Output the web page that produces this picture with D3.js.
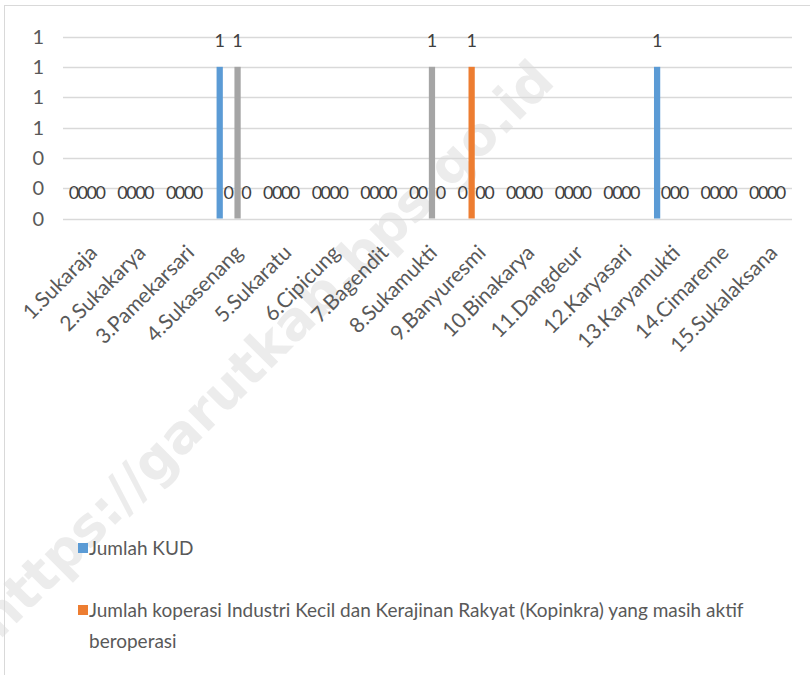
<!DOCTYPE html>
<html>
<head>
<meta charset="utf-8">
<script src="https://unpkg.com/d3@7/dist/d3.min.js"></script>
<style>
  body { margin: 0; background: #fff; }
  text { font-family: Lato, "Open Sans", sans-serif; }
  .dlabel { font-family: "Liberation Sans Narrow", Lato, sans-serif; }
</style>
</head>
<body>
<svg id="chart" width="810" height="675"></svg>
<script>
// desa / kelurahan
var categories = ["1.Sukaraja", "2.Sukakarya", "3.Pamekarsari", "4.Sukasenang", "5.Sukaratu",
  "6.Cipicung", "7.Bagendit", "8.Sukamukti", "9.Banyuresmi", "10.Binakarya",
  "11.Dangdeur", "12.Karyasari", "13.Karyamukti", "14.Cimareme", "15.Sukalaksana"];

var seriesNames = ["Jumlah KUD",
  "Jumlah koperasi Industri Kecil dan Kerajinan Rakyat (Kopinkra) yang masih aktif beroperasi",
  "Seri 3", "Seri 4"];
var seriesColors = ["#5b9bd5", "#ed7d31", "#a5a5a5", "#ffc000"];

var kud      = [0, 0, 0, 1, 0, 0, 0, 0, 0, 0, 0, 0, 1, 0, 0];
var kopinkra = [0, 0, 0, 0, 0, 0, 0, 0, 1, 0, 0, 0, 0, 0, 0];
var seri3    = [0, 0, 0, 1, 0, 0, 0, 1, 0, 0, 0, 0, 0, 0, 0];
var seri4    = [0, 0, 0, 0, 0, 0, 0, 0, 0, 0, 0, 0, 0, 0, 0];

var yTicks = [0, 0.2, 0.4, 0.6, 0.8, 1, 1.2];

var allSeries = [kud, kopinkra, seri3, seri4];

var svg = d3.select("#chart");
var plotLeft = 63, plotRight = 792, plotTop = 36.5, plotBottom = 218.5;
var fs = "19px";

// watermark
svg.append("text")
  .attr("transform", "translate(278,362) rotate(-45)")
  .attr("text-anchor", "middle")
  .style("font-family", "'DejaVu Sans', sans-serif")
  .style("font-weight", "bold")
  .style("font-size", "53px")
  .attr("fill", "#ececec")
  .text("https://garutkab.bps.go.id");

// chart border
svg.append("rect")
  .attr("x", 4.5).attr("y", 5.5)
  .attr("width", 900).attr("height", 900)
  .attr("fill", "none")
  .attr("stroke", "#d9d9d9");

var y = d3.scaleLinear().domain([0, 1.2]).range([plotBottom, plotTop]);

var x0 = d3.scaleBand()
  .domain(categories)
  .range([plotLeft, plotRight])
  .paddingInner(0.32)
  .paddingOuter(0.16);

var x1 = d3.scaleBand()
  .domain(d3.range(allSeries.length))
  .range([0, x0.bandwidth()])
  .paddingInner(0.3);

// gridlines
svg.append("g").selectAll("line")
  .data(yTicks)
  .join("line")
  .attr("x1", plotLeft).attr("x2", plotRight)
  .attr("y1", d => Math.round(y(d)) + 0.5)
  .attr("y2", d => Math.round(y(d)) + 0.5)
  .attr("stroke", "#d9d9d9")
  .attr("stroke-width", 1.5);

// y axis labels
svg.append("g").selectAll("text")
  .data(yTicks)
  .join("text")
  .attr("x", 44)
  .attr("y", d => y(d))
  .attr("dy", "0.35em")
  .attr("text-anchor", "end")
  .attr("fill", "#595959")
  .style("font-size", "20px")
  .text(d => d3.format(".0f")(d));

// bars
var groups = svg.append("g").selectAll("g")
  .data(categories)
  .join("g")
  .attr("transform", d => "translate(" + x0(d) + ",0)");

groups.selectAll("rect")
  .data((d, i) => allSeries.map((s, k) => ({ k: k, v: s[i] })))
  .join("rect")
  .attr("x", d => x1(d.k))
  .attr("width", x1.bandwidth())
  .attr("y", d => y(d.v))
  .attr("height", d => y(0) - y(d.v))
  .attr("fill", d => seriesColors[d.k]);

// data labels
groups.selectAll("text")
  .data((d, i) => allSeries.map((s, k) => ({ k: k, v: s[i] })))
  .join("text")
  .attr("class", "dlabel")
  .attr("x", d => x1(d.k) + x1.bandwidth() / 2)
  .attr("y", d => y(d.v) - 20)
  .attr("text-anchor", "middle")
  .attr("fill", "#404040")
  .style("font-size", "18px")
  .text(d => d.v);

// category labels
svg.append("g").selectAll("text")
  .data(categories)
  .join("text")
  .attr("transform", d => "translate(" + (x0(d) + x0.bandwidth() / 2 + 11) + ",254) rotate(-45)")
  .attr("text-anchor", "end")
  .attr("fill", "#595959")
  .style("font-size", "21px")
  .text(d => d);

// legend (only the first two entries are visible)
var legendRows = [
  { k: 0, lines: ["Jumlah KUD"], y: 548 },
  { k: 1, lines: ["Jumlah koperasi Industri Kecil dan Kerajinan Rakyat (Kopinkra) yang masih aktif", "beroperasi"], y: 610 }
];

var leg = svg.append("g").selectAll("g")
  .data(legendRows)
  .join("g");

leg.append("rect")
  .attr("x", 78).attr("y", d => d.y - 5)
  .attr("width", 10).attr("height", 10)
  .attr("fill", d => seriesColors[d.k]);

leg.append("text")
  .attr("x", 89)
  .attr("y", d => d.y)
  .attr("fill", "#595959")
  .style("font-size", fs)
  .selectAll("tspan")
  .data(d => d.lines)
  .join("tspan")
  .attr("x", 89)
  .attr("dy", (d, i) => i === 0 ? "0.35em" : 31)
  .text(d => d);
</script>
</body>
</html>
